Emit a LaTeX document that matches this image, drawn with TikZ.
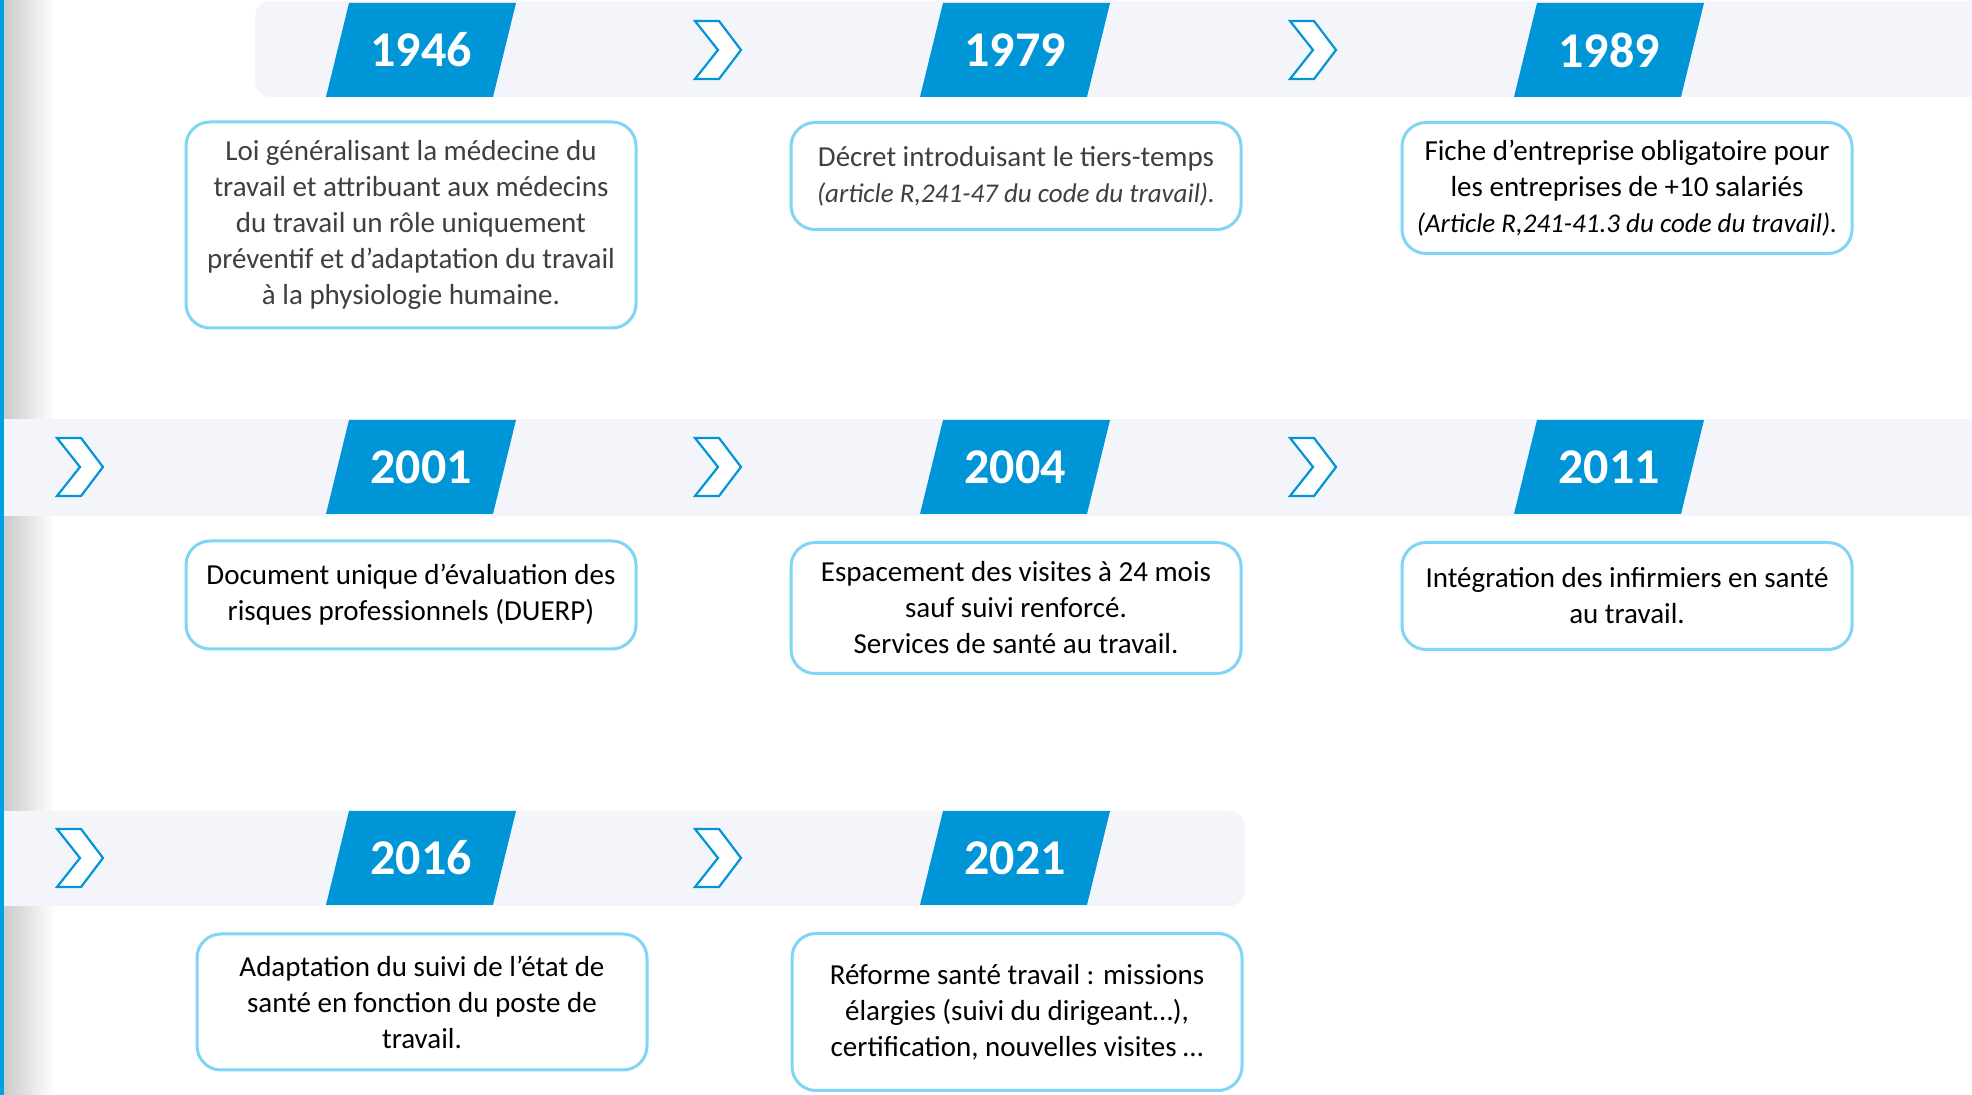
\documentclass[tikz,border=0pt]{standalone}
\usepackage{fontspec}
\setmainfont{Carlito}

\definecolor{yearblue}{HTML}{0095D6}
\definecolor{bandgray}{HTML}{F4F5FA}
\definecolor{boxline}{HTML}{80D4F6}
\definecolor{textgray}{HTML}{3F3F3F}
\definecolor{edgeblue}{HTML}{00A0E3}
\newcommand\notefont{\fontsize{13.5}{18}\selectfont\itshape}

\begin{document}
\begin{tikzpicture}[
  x=0.5pt, y=-0.5pt,
  band/.style={fill=bandgray},
  yeartext/.style={text=white, font=\fontsize{25}{30}\selectfont\bfseries, inner sep=0pt},
  event/.style={draw=boxline, line width=1.5pt, rounded corners=12pt,
    fill=white, minimum width=225pt, align=center, inner sep=0pt,
    font=\fontsize{14.5}{18}\selectfont},
  chevron/.pic={
    \filldraw[draw=yearblue, fill=white, line width=1.1pt]
      (-23,-29) -- (1,-29) -- (23,0) -- (1,29) -- (-23,29) -- (0,0) -- cycle;},
  yearflag/.pic={
    \fill[yearblue] (-95,47) -- (72,47) -- (95,-47) -- (-72,-47) -- cycle;
    \node[yeartext] (label) {#1};}
]
  \useasboundingbox[fill=white] (0,0) rectangle (1972,1095);

  % left edge
  \shade[left color=black!22, right color=white] (0,0) rectangle (55,1095);

  % bands
  \fill[band, rounded corners=8pt] (255,1) rectangle (2010,97);
  \fill[band] (4,419) rectangle (1972,516);
  \fill[band, rounded corners=8pt] (-30,811) rectangle (1245,906);
  \fill[edgeblue] (0,0) rectangle (4,1095);

  % chevrons
  \pic (c1) at (718,50) {chevron};
  \pic (c2) at (1313,50) {chevron};
  \pic (c3) at (80,467) {chevron};
  \pic (c4) at (718,467) {chevron};
  \pic (c5) at (1313,467) {chevron};
  \pic (c6) at (80,858) {chevron};
  \pic (c7) at (718,858) {chevron};

  % years
  \pic (y1946) at (421,50) {yearflag=1946};
  \pic (y1979) at (1015,50) {yearflag=1979};
  \pic (y1989) at (1609,50) {yearflag=1989};
  \pic (y2001) at (421,467) {yearflag=2001};
  \pic (y2004) at (1015,467) {yearflag=2004};
  \pic (y2011) at (1609,467) {yearflag=2011};
  \pic (y2016) at (421,858) {yearflag=2016};
  \pic (y2021) at (1015,858) {yearflag=2021};

  % events
  \node[event, minimum height=103pt, text=textgray] (e1946) at (411,225)
    {Loi généralisant la médecine du\\travail et attribuant aux médecins\\du travail un rôle uniquement\\préventif et d’adaptation du travail\\à la physiologie humaine.};
  \node[event, minimum height=53.5pt, text=textgray] (e1979) at (1016,176)
    {Décret introduisant le tiers-temps\\{\notefont (article R,241-47 du code du travail).}};
  \node[event, minimum height=65.5pt] (e1989) at (1627,188)
    {Fiche d’entreprise obligatoire pour\\les entreprises de +10 salariés\\{\notefont (Article R,241-41.3 du code du travail).}};
  \node[event, minimum height=54pt] (e2001) at (411,595)
    {Document unique d’évaluation des\\risques professionnels (DUERP)};
  \node[event, minimum height=65.5pt] (e2004) at (1016,608)
    {Espacement des visites à 24 mois\\sauf suivi renforcé.\\Services de santé au travail.};
  \node[event, minimum height=53.5pt] (e2011) at (1627,596)
    {Intégration des infirmiers en santé\\au travail.};
  \node[event, minimum height=68pt] (e2016) at (422,1002)
    {Adaptation du suivi de l’état de\\santé en fonction du poste de\\travail.};
  \node[event, minimum height=78.5pt] (e2021) at (1017,1012)
    {Réforme santé travail : missions\\élargies (suivi du dirigeant…),\\certification, nouvelles visites …};
\end{tikzpicture}
\end{document}
